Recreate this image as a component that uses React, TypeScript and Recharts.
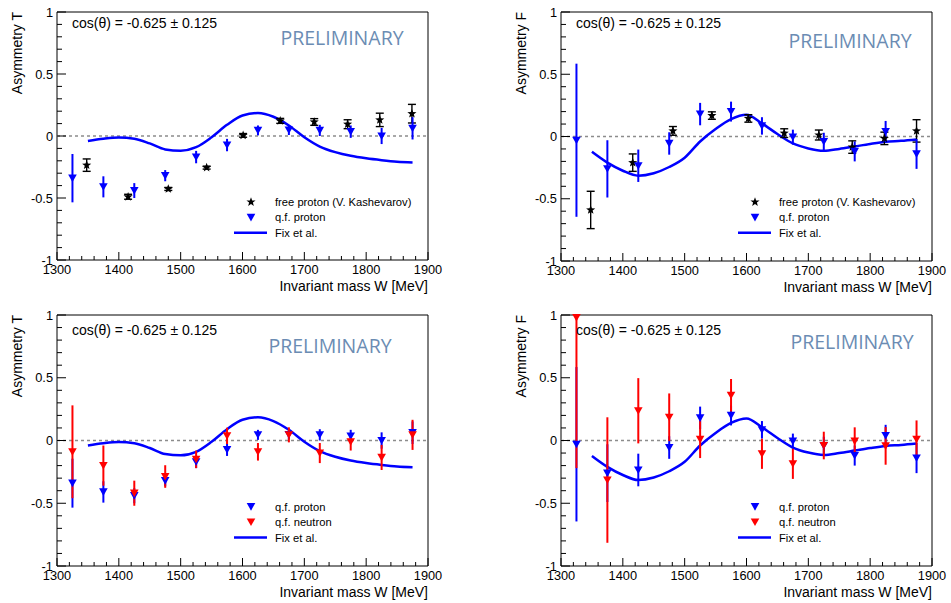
import React from 'react';
import {
  ComposedChart,
  ErrorBar,
  Line,
  ReferenceArea,
  ReferenceLine,
  Scatter,
  XAxis,
  YAxis
} from 'recharts';

// bin centres of the quasi-free data
const W_BINS = [1325, 1375, 1425, 1475, 1525, 1575, 1625, 1675, 1725, 1775, 1825, 1875];

// free proton (V. Kashevarov) energies
const W_FREE_T = [1348, 1415, 1480, 1542, 1601, 1661, 1716, 1770, 1822, 1874];
const W_FREE_F = [1348, 1416, 1481, 1544, 1603, 1661, 1717, 1771, 1823, 1875];

// asymmetry T
const T_FREE = [-0.235, -0.49, -0.427, -0.255, 0.005, 0.122, 0.113, 0.095, 0.13, 0.18];
const T_FREE_ERR = [0.05, 0.02, 0.012, 0.012, 0.015, 0.02, 0.027, 0.036, 0.054, 0.075];
const T_QF_P = [-0.34, -0.41, -0.44, -0.32, -0.17, -0.073, 0.045, 0.048, 0.045, 0.035, 0.0, 0.062];
const T_QF_P_ERR = [0.195, 0.085, 0.06, 0.045, 0.05, 0.05, 0.04, 0.04, 0.045, 0.05, 0.065, 0.09];
const T_QF_N = [-0.09, -0.2, -0.42, -0.287, -0.15, 0.037, -0.09, 0.045, -0.1, -0.01, -0.135, 0.045];
const T_QF_N_ERR = [0.37, 0.16, 0.1, 0.09, 0.07, 0.065, 0.07, 0.06, 0.08, 0.07, 0.1, 0.12];

// asymmetry F
const F_FREE = [-0.59, -0.21, 0.045, 0.168, 0.145, 0.027, 0.012, -0.085, -0.015, 0.045];
const F_FREE_ERR = [0.15, 0.07, 0.035, 0.03, 0.03, 0.035, 0.04, 0.05, 0.05, 0.09];
const F_QF_P = [-0.03, -0.26, -0.235, -0.056, 0.18, 0.2, 0.085, -0.005, -0.04, -0.12, 0.04, -0.14];
const F_QF_P_ERR = [0.615, 0.23, 0.13, 0.09, 0.09, 0.08, 0.07, 0.06, 0.07, 0.08, 0.085, 0.12];
const F_QF_N = [0.98, -0.315, 0.237, 0.185, 0.01, 0.36, -0.106, -0.186, -0.04, -0.005, -0.043, 0.01];
// first neutron point runs off the top of the frame
const F_QF_N_ERR: Array<number | [number, number]> = [
  [1.2, 0.02], 0.5, 0.26, 0.19, 0.15, 0.13, 0.12, 0.12, 0.11, 0.11, 0.15, 0.15
];

// Fix et al. model
const FIX_W = [1350, 1375, 1400, 1425, 1450, 1475, 1500, 1525, 1550, 1575, 1600, 1625,
  1650, 1675, 1700, 1725, 1750, 1775, 1800, 1825, 1850, 1875];
const FIX_T = [-0.04, -0.022, -0.012, -0.022, -0.06, -0.108, -0.118, -0.09, -0.01, 0.09, 0.165, 0.185,
  0.155, 0.085, -0.01, -0.085, -0.13, -0.16, -0.18, -0.195, -0.207, -0.213];
const FIX_F = [-0.123, -0.21, -0.275, -0.315, -0.295, -0.245, -0.17, -0.04, 0.06, 0.14, 0.175, 0.105,
  0.02, -0.056, -0.096, -0.115, -0.1, -0.08, -0.06, -0.043, -0.035, -0.024];

const X_MAJOR = [1300, 1400, 1500, 1600, 1700, 1800, 1900];
const Y_MAJOR = [-1, -0.5, 0, 0.5, 1];

const X_TICKS: number[] = [];
for (let w = 1300; w <= 1900; w += 20) X_TICKS.push(w);
const Y_TICKS: number[] = [];
for (let i = -10; i <= 10; i++) Y_TICKS.push(i / 10);

const FONT = '"Liberation Sans", Arial, sans-serif';
const BLUE = '#0000ff';
const RED = '#ff0000';
const PLOT_LEFT = 57;
const PLOT_TOP = 12;
const PLOT_W = 371;

type Pt = { w: number; v: number; e: number | [number, number] };
const pts = (ws: number[], vs: number[], es: Array<number | [number, number]>): Pt[] =>
  ws.map((w, i) => ({ w, v: vs[i], e: es[i] }));

function TriDown({ cx, cy, fill }: any) {
  if (cx == null || cy == null) return null;
  return <polygon points={`${cx - 4.3},${cy - 3.6} ${cx + 4.3},${cy - 3.6} ${cx},${cy + 4}`} fill={fill} />;
}

function Star({ cx, cy, fill }: any) {
  if (cx == null || cy == null) return null;
  const p: string[] = [];
  for (let i = 0; i < 10; i++) {
    const r = i % 2 === 0 ? 4.8 : 2;
    const a = -Math.PI / 2 + (i * Math.PI) / 5;
    p.push(`${cx + r * Math.cos(a)},${cy + r * Math.sin(a)}`);
  }
  return <polygon points={p.join(' ')} fill={fill} />;
}

type Series = { data: Pt[]; kind: 'star' | 'tri'; color: string; label: string };

interface PanelProps {
  left: number;
  top: number;
  width: number;
  plotH: number;
  yTitle: string;
  series: Series[];
  fix: Array<{ w: number; v: number }>;
  cosY: number;
  prelim: [number, number];
  legendY: number;
}

function Panel({ left, top, width, plotH, yTitle, series, fix, cosY, prelim, legendY }: PanelProps) {
  const height = PLOT_TOP + plotH + 40;
  const bottom = PLOT_TOP + plotH;
  const right = width - PLOT_LEFT - PLOT_W;

  const xTick = (props: any) => {
    const { x, payload } = props;
    const major = X_MAJOR.includes(payload.value);
    return (
      <g>
        <line x1={x} x2={x} y1={bottom} y2={bottom - (major ? 8 : 4)} stroke="#000" strokeWidth={1} />
        {major && (
          <text x={x} y={bottom + 14} textAnchor="middle" fontSize={12.8} fontFamily={FONT} fill="#000">
            {payload.value}
          </text>
        )}
      </g>
    );
  };

  const yTick = (props: any) => {
    const { y, payload } = props;
    const major = Y_MAJOR.some((m) => Math.abs(m - payload.value) < 1e-6);
    return (
      <g>
        <line x1={PLOT_LEFT} x2={PLOT_LEFT + (major ? 9 : 5)} y1={y} y2={y} stroke="#000" strokeWidth={1} />
        {major && (
          <text x={PLOT_LEFT - 4} y={y + 4.5} textAnchor="end" fontSize={12.8} fontFamily={FONT} fill="#000">
            {payload.value}
          </text>
        )}
      </g>
    );
  };

  const legend: Array<{ kind: 'star' | 'tri' | 'line'; color: string; label: string }> = [
    ...series.map((s) => ({ kind: s.kind, color: s.color, label: s.label })),
    { kind: 'line', color: BLUE, label: 'Fix et al.' }
  ];

  return (
    <div style={{ position: 'absolute', left, top, width, height }}>
      <ComposedChart width={width} height={height} margin={{ top: PLOT_TOP, right, bottom: 0, left: 0 }}>
        <XAxis
          type="number"
          dataKey="w"
          domain={[1300, 1900]}
          ticks={X_TICKS}
          interval={0}
          height={40}
          axisLine={false}
          tickLine={false}
          tick={xTick}
        />
        <YAxis
          type="number"
          domain={[-1, 1]}
          ticks={Y_TICKS}
          interval={0}
          width={PLOT_LEFT}
          axisLine={false}
          tickLine={false}
          tick={yTick}
        />
        <ReferenceLine y={0} stroke="#8c8c8c" strokeDasharray="3 3" strokeWidth={1.6} />
        <Line
          data={fix}
          dataKey="v"
          type="monotone"
          stroke={BLUE}
          strokeWidth={2.5}
          dot={false}
          isAnimationActive={false}
        />
        {series.map((s) => (
          <Scatter
            key={s.label}
            data={s.data}
            dataKey="v"
            fill={s.color}
            shape={s.kind === 'star' ? Star : TriDown}
            isAnimationActive={false}
          >
            <ErrorBar
              dataKey="e"
              direction="y"
              width={s.kind === 'star' ? 4 : 0}
              stroke={s.color}
              strokeWidth={s.kind === 'star' ? 1.4 : 2}
            />
          </Scatter>
        ))}
        <ReferenceArea x1={1300} x2={1900} y1={-1} y2={1} fill="none" stroke="#000" strokeWidth={1} />
      </ComposedChart>
      <svg
        width={width}
        height={height}
        style={{ position: 'absolute', left: 0, top: 0, pointerEvents: 'none' }}
      >
        <text
          x={22}
          y={PLOT_TOP}
          transform={`rotate(-90 22 ${PLOT_TOP})`}
          textAnchor="end"
          fontSize={14}
          fontFamily={FONT}
          fill="#000"
        >
          {yTitle}
        </text>
        <text x={PLOT_LEFT + PLOT_W} y={bottom + 31} textAnchor="end" fontSize={14} fontFamily={FONT} fill="#000">
          Invariant mass W [MeV]
        </text>
        <text x={72} y={cosY} fontSize={14} fontFamily={FONT} fill="#000">
          cos(θ) = -0.625 ± 0.125
        </text>
        <text
          x={prelim[0]}
          y={prelim[1]}
          textAnchor="middle"
          fontSize={19.5}
          fontFamily='"Open Sans", "Noto Sans", sans-serif'
          fill="#6b8cb3"
        >
          PRELIMINARY
        </text>
        {legend.map((it, i) => {
          const ly = legendY + i * 15.4;
          return (
            <g key={it.label}>
              {it.kind === 'star' && <Star cx={251} cy={ly} fill={it.color} />}
              {it.kind === 'tri' && <TriDown cx={251} cy={ly} fill={it.color} />}
              {it.kind === 'line' && <line x1={234} x2={267} y1={ly} y2={ly} stroke={it.color} strokeWidth={2.5} />}
              <text x={275} y={ly + 4} fontSize={11.2} fontFamily={FONT} fill="#000">
                {it.label}
              </text>
            </g>
          );
        })}
      </svg>
    </div>
  );
}

export default function App() {
  const fixT = FIX_W.map((w, i) => ({ w, v: FIX_T[i] }));
  const fixF = FIX_W.map((w, i) => ({ w, v: FIX_F[i] }));

  const freeT: Series = { data: pts(W_FREE_T, T_FREE, T_FREE_ERR), kind: 'star', color: '#000', label: 'free proton (V. Kashevarov)' };
  const freeF: Series = { data: pts(W_FREE_F, F_FREE, F_FREE_ERR), kind: 'star', color: '#000', label: 'free proton (V. Kashevarov)' };
  const qfpT: Series = { data: pts(W_BINS, T_QF_P, T_QF_P_ERR), kind: 'tri', color: BLUE, label: 'q.f. proton' };
  const qfpF: Series = { data: pts(W_BINS, F_QF_P, F_QF_P_ERR), kind: 'tri', color: BLUE, label: 'q.f. proton' };
  const qfnT: Series = { data: pts(W_BINS, T_QF_N, T_QF_N_ERR), kind: 'tri', color: RED, label: 'q.f. neutron' };
  const qfnF: Series = { data: pts(W_BINS, F_QF_N, F_QF_N_ERR), kind: 'tri', color: RED, label: 'q.f. neutron' };

  return (
    <div
      style={{
        position: 'absolute',
        left: 0,
        top: 0,
        width: 951,
        height: 603,
        overflow: 'hidden',
        background: '#fff'
      }}
    >
      <Panel left={0} top={0} width={475} plotH={248} yTitle="Asymmetry T" series={[freeT, qfpT]} fix={fixT}
        cosY={28} prelim={[342, 44.5]} legendY={202} />
      <Panel left={504} top={0} width={447} plotH={249} yTitle="Asymmetry F" series={[freeF, qfpF]} fix={fixF}
        cosY={28} prelim={[346, 48]} legendY={202} />
      <Panel left={0} top={303} width={475} plotH={251} yTitle="Asymmetry T" series={[qfpT, qfnT]} fix={fixT}
        cosY={32} prelim={[330, 50]} legendY={203.7} />
      <Panel left={504} top={303} width={447} plotH={251} yTitle="Asymmetry F" series={[qfpF, qfnF]} fix={fixF}
        cosY={32} prelim={[348, 46]} legendY={203.7} />
    </div>
  );
}
